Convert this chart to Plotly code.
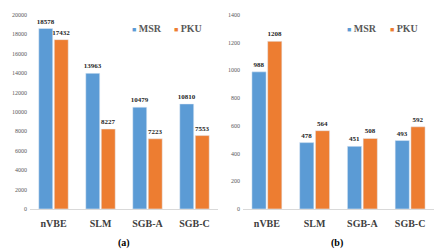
import plotly.graph_objects as go

categories = ["nVBE", "SLM", "SGB-A", "SGB-C"]
msr_a = [18578, 13963, 10479, 10810]
pku_a = [17432, 8227, 7223, 7553]
msr_b = [988, 478, 451, 493]
pku_b = [1208, 564, 508, 592]
series_names = ["MSR", "PKU"]
colors = ["#5B9BD5", "#ED7D31"]
panel_labels = ["(a)", "(b)"]

SERIF = "Liberation Serif, Times New Roman, serif"

fig = go.Figure()

def add_bars(vals, name, color, xa, ya):
    fig.add_trace(go.Bar(
        x=categories, y=vals, name=name, marker_color=color,
        xaxis=xa, yaxis=ya, showlegend=False,
        text=[str(v) for v in vals], textposition="outside",
        constraintext="none",
        textfont=dict(family=SERIF, size=7, color="#262626", weight="bold"),
        cliponaxis=False,
    ))

add_bars(msr_a, series_names[0], colors[0], "x", "y")
add_bars(pku_a, series_names[1], colors[1], "x", "y")
add_bars(msr_b, series_names[0], colors[0], "x2", "y2")
add_bars(pku_b, series_names[1], colors[1], "x2", "y2")

W, H = 436, 250
ydom = [(H - 211) / H, (H - 12) / H]

xcommon = dict(
    showgrid=False, showline=True, linecolor="#D9D9D9", linewidth=1,
    ticks="", ticklabelstandoff=5,
    tickfont=dict(family=SERIF, size=10, color="#404040", weight="bold"),
)
ycommon = dict(
    showgrid=False, zeroline=False, showline=False, ticks="",
    tickformat="d",
    tickfont=dict(family=SERIF, size=6, color="#595959"),
    ticklabelstandoff=2,
)

annotations = []
# manual legends (one per panel)
legend_pos = [[130, 172], [345, 388]]
for panel in range(2):
    for i, name in enumerate(series_names):
        annotations.append(dict(
            text=f'<span style="color:{colors[i]};font-size:7px">■</span> {name}',
            x=legend_pos[panel][i] / W, y=(H - 26) / H, xref="paper", yref="paper",
            xanchor="left", yanchor="middle", showarrow=False,
            font=dict(family=SERIF, size=10, color="#595959", weight="bold"),
        ))
panel_x = [124, 337]
for panel in range(2):
    annotations.append(dict(
        text=panel_labels[panel], x=panel_x[panel] / W, y=(H - 246) / H,
        xref="paper", yref="paper", showarrow=False,
        xanchor="center", yanchor="middle",
        font=dict(family=SERIF, size=10, color="black", weight="bold"),
    ))

fig.update_layout(
    width=W, height=H,
    margin=dict(l=0, r=0, t=0, b=0),
    paper_bgcolor="white", plot_bgcolor="white",
    barmode="group", bargap=0.34, bargroupgap=0.1,
    showlegend=False,
    xaxis=dict(domain=[30 / W, 218 / W], anchor="y", **xcommon),
    yaxis=dict(domain=ydom, anchor="x", range=[0, 20000], dtick=2000, **ycommon),
    xaxis2=dict(domain=[243 / W, 434 / W], anchor="y2", **xcommon),
    yaxis2=dict(domain=ydom, anchor="x2", range=[0, 1400], dtick=200, **ycommon),
    annotations=annotations,
)

fig.write_html(
    "out.html",
    config={"displayModeBar": False},
    post_script="document.body.style.margin='0';document.body.style.overflow='hidden';",
)
